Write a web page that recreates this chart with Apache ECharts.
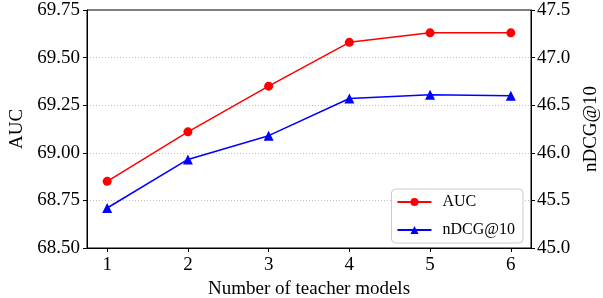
<!DOCTYPE html>
<html>
<head>
<meta charset="utf-8">
<script src="https://cdn.jsdelivr.net/npm/echarts@6/dist/echarts.min.js"></script>
<style>
html, body { margin: 0; padding: 0; background: #fff; }
#chart { width: 603px; height: 298px; }
</style>
</head>
<body>
<div id="chart"></div>
<script>
const teacherCounts = [1, 2, 3, 4, 5, 6];
const aucValues = [68.85, 69.11, 69.35, 69.58, 69.63, 69.63];
const ndcgValues = [45.42, 45.93, 46.18, 46.57, 46.61, 46.60];

const font = 'Liberation Serif';
const chart = echarts.init(document.getElementById('chart'));

const toPairs = vals => teacherCounts.map((x, i) => [x, vals[i]]);

chart.setOption({
    backgroundColor: '#ffffff',
    animation: false,
    textStyle: { fontFamily: font, color: '#000' },
    grid: {
        left: 87, right: 72, top: 10, bottom: 50,
        containLabel: false, outerBoundsMode: 'none',
        show: true, borderColor: '#000', borderWidth: 1
    },
    legend: {
        orient: 'vertical',
        right: 80, bottom: 55,
        padding: [5, 8, 5, 5],
        itemWidth: 34, itemHeight: 10, itemGap: 12,
        backgroundColor: '#fff',
        borderColor: '#cccccc', borderWidth: 1, borderRadius: 4,
        textStyle: { fontFamily: font, fontSize: 16, color: '#000', padding: [0, 0, 0, 6] },
        data: ['AUC', 'nDCG@10']
    },
    xAxis: {
        type: 'value',
        min: 0.75, max: 6.25,
        name: 'Number of teacher models',
        nameLocation: 'middle', nameGap: 31,
        nameTextStyle: { fontFamily: font, fontSize: 19, color: '#000' },
        axisLine: { lineStyle: { color: '#000', width: 1 } },
        axisTick: { show: true, length: 4, customValues: teacherCounts, lineStyle: { color: '#000' } },
        axisLabel: { customValues: teacherCounts, fontFamily: font, fontSize: 19, color: '#000', margin: 8 },
        splitLine: { show: false }
    },
    yAxis: [
        {
            type: 'value',
            min: 68.5, max: 69.75, interval: 0.25,
            name: 'AUC',
            nameLocation: 'middle', nameRotate: 90, nameGap: 57,
            nameTextStyle: { fontFamily: font, fontSize: 19, color: '#000' },
            axisLine: { show: true, lineStyle: { color: '#000', width: 1 } },
            axisTick: { show: true, length: 4, lineStyle: { color: '#000' } },
            axisLabel: { formatter: v => v.toFixed(2), fontFamily: font, fontSize: 19, color: '#000', margin: 7 },
            splitLine: {
                show: true, showMinLine: false, showMaxLine: false,
                lineStyle: { color: '#b0b0b0', type: [1, 2], width: 0.8 }
            }
        },
        {
            type: 'value',
            min: 45.0, max: 47.5, interval: 0.5,
            name: 'nDCG@10',
            nameLocation: 'middle', nameRotate: 90, nameGap: 51,
            nameTextStyle: { fontFamily: font, fontSize: 19, color: '#000' },
            axisLine: { show: true, lineStyle: { color: '#000', width: 1 } },
            axisTick: { show: true, length: 4, lineStyle: { color: '#000' } },
            axisLabel: { formatter: v => v.toFixed(1), fontFamily: font, fontSize: 19, color: '#000', margin: 6 },
            splitLine: { show: false }
        }
    ],
    series: [
        {
            name: 'AUC',
            type: 'line',
            yAxisIndex: 0,
            data: toPairs(aucValues),
            symbol: 'circle', symbolSize: 9,
            itemStyle: { color: '#ff0000' },
            lineStyle: { color: '#ff0000', width: 1.5 }
        },
        {
            name: 'nDCG@10',
            type: 'line',
            yAxisIndex: 1,
            data: toPairs(ndcgValues),
            symbol: 'triangle', symbolSize: 10,
            itemStyle: { color: '#0000ff' },
            lineStyle: { color: '#0000ff', width: 1.5 }
        }
    ]
});
</script>
</body>
</html>
